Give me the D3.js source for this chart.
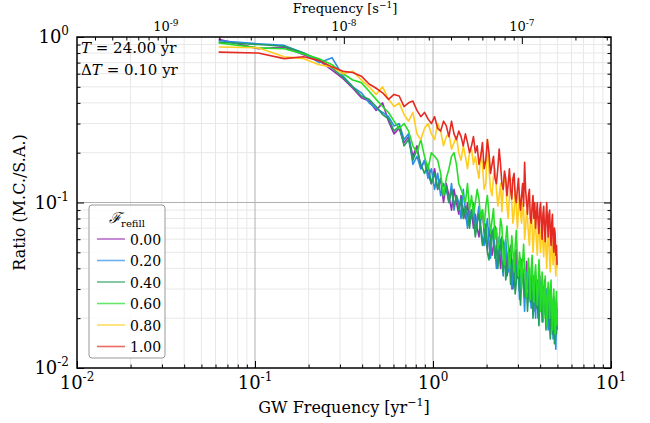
<!DOCTYPE html>
<html>
<head>
<meta charset="utf-8">
<script src="https://cdn.jsdelivr.net/npm/d3@7"></script>
<style>
body { margin: 0; background: #fff; }
text { font-family: "DejaVu Serif", serif; fill: #000; }
</style>
</head>
<body>
<div id="chart"></div>
<script>
// observation span and cadence (yr), shown in the panel
const obsSpan = 24.0;
const cadence = 0.10;
const secPerYear = 3.15576e7;

const refillLevels = ["0.00", "0.20", "0.40", "0.60", "0.80", "1.00"];
const lineColors = ["#9b2fb3", "#2a8ee6", "#1f9e5c", "#27de27", "#ffcc1f", "#e42a22"];

// ratio M.C./S.A. per frequency bin, one list per refill fraction
const ratio000 = [.97,.85,.87,.78,.72,.63,.56,.49,.43,.41,
  .36,.40,.31,.26,.28,.23,.25,.19,.22,.16,
  .18,.15,.13,.16,.12,.14,.10,.13,.11,.09,
  .12,.10,.085,.11,.09,.08,.10,.075,.09,.07,
  .085,.07,.062,.078,.09,.066,.058,.052,.07,.06,
  .048,.055,.072,.066,.045,.05,.04,.062,.058,.047,
  .052,.036,.04,.05,.055,.043,.03,.038,.048,.052,
  .035,.04,.029,.046,.041,.033,.037,.026,.03,.044,
  .04,.032,.036,.025,.028,.038,.034,.022,.03,.036,
  .031,.027,.02,.033,.036,.024,.028,.03,.021,.026,
  .034,.029,.022,.018,.027,.031,.024,.02,.025,.029,
  .022,.016,.024,.027,.019,.014,.021,.025,.017];
const ratio020 = [.95,.91,.89,.80,.70,.75,.58,.50,.46,.40,
  .37,.35,.33,.29,.30,.24,.26,.17,.19,.16,
  .18,.14,.16,.12,.15,.11,.13,.12,.10,.13,
  .09,.11,.10,.08,.12,.09,.07,.09,.08,.10,
  .07,.08,.095,.072,.06,.055,.07,.08,.058,.046,
  .064,.07,.052,.04,.048,.062,.058,.044,.036,.055,
  .06,.047,.038,.05,.042,.03,.036,.05,.046,.034,
  .042,.038,.026,.033,.045,.04,.03,.022,.034,.038,
  .03,.035,.04,.027,.023,.033,.03,.036,.025,.02,
  .029,.034,.03,.022,.026,.033,.024,.019,.027,.031,
  .025,.021,.028,.03,.02,.017,.025,.029,.023,.018,
  .024,.02,.015,.022,.026,.018,.013,.02,.023];
const ratio040 = [.93,.90,.88,.80,.73,.65,.57,.50,.44,.42,
  .38,.34,.32,.27,.29,.22,.24,.18,.21,.17,
  .15,.17,.13,.15,.12,.14,.11,.125,.10,.12,
  .095,.11,.09,.105,.08,.095,.085,.07,.09,.08,
  .062,.075,.085,.068,.055,.062,.074,.05,.045,.06,
  .068,.058,.046,.055,.04,.05,.06,.045,.038,.052,
  .034,.04,.05,.046,.032,.038,.045,.04,.028,.033,
  .042,.037,.03,.024,.035,.04,.032,.027,.036,.03,
  .022,.028,.036,.033,.025,.03,.02,.026,.032,.028,
  .023,.03,.025,.018,.027,.031,.022,.025,.019,.026,
  .029,.022,.017,.024,.027,.02,.023,.018,.015,.022,
  .025,.019,.016,.021,.014,.019,.022,.016,.02];
const ratio060 = [.92,.86,.85,.79,.74,.68,.60,.55,.53,.47,
  .42,.38,.35,.31,.28,.30,.27,.22,.20,.24,
  .19,.16,.20,.19,.18,.15,.11,.14,.16,.19,
  .20,.17,.13,.12,.11,.10,.13,.09,.11,.085,
  .10,.12,.105,.08,.09,.07,.095,.11,.085,.065,
  .078,.092,.06,.07,.052,.058,.08,.072,.048,.042,
  .06,.072,.055,.04,.047,.063,.05,.038,.055,.068,
  .045,.036,.05,.042,.03,.044,.056,.04,.033,.027,
  .038,.046,.035,.026,.04,.048,.03,.025,.036,.042,
  .032,.024,.03,.045,.035,.022,.028,.038,.026,.02,
  .03,.036,.024,.018,.026,.033,.028,.02,.03,.034,
  .022,.017,.025,.03,.02,.016,.024,.029,.018];
const ratio080 = [.87,.86,.76,.74,.68,.66,.60,.62,.55,.50,
  .45,.50,.42,.38,.40,.34,.31,.35,.26,.24,
  .28,.30,.26,.24,.30,.27,.22,.25,.26,.21,
  .23,.25,.20,.18,.22,.19,.16,.20,.21,.17,
  .19,.16,.14,.20,.17,.12,.13,.24,.16,.12,
  .11,.145,.16,.12,.095,.11,.13,.088,.12,.15,
  .13,.095,.08,.11,.14,.10,.075,.085,.12,.095,
  .07,.09,.11,.085,.075,.10,.09,.06,.07,.09,
  .08,.065,.055,.075,.09,.07,.05,.062,.08,.072,
  .058,.048,.065,.08,.06,.05,.07,.075,.055,.047,
  .062,.07,.052,.04,.055,.065,.06,.045,.038,.052,
  .06,.05,.042,.055,.058,.044,.036,.048,.04];
const ratio100 = [.81,.80,.74,.76,.72,.66,.62,.61,.58,.52,
  .49,.46,.42,.45,.44,.38,.40,.41,.36,.33,
  .35,.32,.30,.33,.28,.27,.31,.29,.25,.31,
  .26,.24,.27,.25,.22,.26,.23,.20,.22,.25,
  .20,.22,.17,.19,.23,.16,.18,.24,.20,.15,
  .17,.19,.14,.13,.16,.21,.17,.13,.12,.155,
  .14,.11,.13,.16,.12,.105,.14,.15,.11,.10,
  .12,.14,.105,.09,.11,.13,.095,.175,.12,.10,
  .085,.11,.12,.08,.075,.095,.11,.08,.10,.07,
  .085,.10,.075,.065,.09,.10,.075,.06,.085,.095,
  .07,.058,.08,.10,.075,.062,.085,.09,.065,.055,
  .075,.085,.06,.05,.07,.065,.048,.055,.042];

const allRatios = [ratio000, ratio020, ratio040, ratio060, ratio080, ratio100];

// bottom/left major ticks (exponents), top ticks in Hz
const xMajorExp = [-2, -1, 0, 1];
const yMajorExp = [-2, -1, 0];
const topMajorExp = [-9, -8, -7];

// frequency bin centres (yr^-1) from the observation span
const binFreq = ratio000.map((_, i) => (i + 1.5) / obsSpan);

var margin = {top: 37, right: 39, bottom: 55, left: 77},
  width = 650 - margin.left - margin.right,
  height = 423 - margin.top - margin.bottom;

var svg = d3.select("#chart")
  .append("svg")
  .attr("width", 650)
  .attr("height", 423);

var g = svg.append("g")
  .attr("transform", "translate(" + margin.left + "," + margin.top + ")");

var x = d3.scaleLog().domain([1e-2, 1e1]).range([0, width]);
var y = d3.scaleLog().domain([1e-2, 1]).range([height, 0]);
var xTop = d3.scaleLog().domain([1e-2 / secPerYear, 1e1 / secPerYear]).range([0, width]);

// minor values of a log domain
function minorVals(scale) {
  var d = scale.domain(), out = [];
  var lo = Math.floor(Math.log10(d[0])), hi = Math.ceil(Math.log10(d[1]));
  for (var e = lo; e < hi; e++) {
    for (var m = 2; m <= 9; m++) {
      var v = m * Math.pow(10, e);
      if (v > d[0] * 1.0001 && v < d[1] * 0.9999) out.push(v);
    }
  }
  return out;
}

// grid
var xMinor = minorVals(x), yMinor = minorVals(y);
g.append("g").selectAll("line").data(xMinor).enter().append("line")
  .attr("x1", d => x(d)).attr("x2", d => x(d)).attr("y1", 0).attr("y2", height)
  .attr("stroke", "#e8e8e8").attr("stroke-width", 1);
g.append("g").selectAll("line").data(yMinor).enter().append("line")
  .attr("y1", d => y(d)).attr("y2", d => y(d)).attr("x1", 0).attr("x2", width)
  .attr("stroke", "#e8e8e8").attr("stroke-width", 1);
g.append("g").selectAll("line").data(xMajorExp.slice(1, -1)).enter().append("line")
  .attr("x1", d => x(Math.pow(10, d))).attr("x2", d => x(Math.pow(10, d)))
  .attr("y1", 0).attr("y2", height)
  .attr("stroke", "#b0b0b0").attr("stroke-width", 1);
g.append("g").selectAll("line").data(yMajorExp.slice(1, -1)).enter().append("line")
  .attr("y1", d => y(Math.pow(10, d))).attr("y2", d => y(Math.pow(10, d)))
  .attr("x1", 0).attr("x2", width)
  .attr("stroke", "#b0b0b0").attr("stroke-width", 1);

// the curves
var line = d3.line()
  .x(d => x(d[0]))
  .y(d => y(d[1]));

g.append("g").selectAll("path")
  .data(allRatios)
  .enter().append("path")
  .attr("d", d => line(d.map((r, i) => [binFreq[i], r])))
  .attr("fill", "none")
  .attr("stroke", (d, i) => lineColors[i])
  .attr("stroke-width", 1.6)
  .attr("stroke-linejoin", "round");

// inward ticks
function styleAxis(sel) {
  sel.select(".domain").remove();
  sel.selectAll(".tick line").attr("stroke", "#000").attr("stroke-width", 1);
  sel.selectAll(".tick text").remove();
}
var majX = xMajorExp.map(e => Math.pow(10, e));
var majY = yMajorExp.map(e => Math.pow(10, e));
var majTop = topMajorExp.map(e => Math.pow(10, e));

g.append("g").attr("transform", "translate(0," + height + ")")
  .call(d3.axisBottom(x).tickValues(majX).tickSizeInner(-7).tickSizeOuter(0)).call(styleAxis);
g.append("g").attr("transform", "translate(0," + height + ")")
  .call(d3.axisBottom(x).tickValues(xMinor).tickSizeInner(-3.5).tickSizeOuter(0)).call(styleAxis);
g.append("g")
  .call(d3.axisLeft(y).tickValues(majY).tickSizeInner(-7).tickSizeOuter(0)).call(styleAxis);
g.append("g")
  .call(d3.axisLeft(y).tickValues(yMinor).tickSizeInner(-3.5).tickSizeOuter(0)).call(styleAxis);
g.append("g").attr("transform", "translate(" + width + ",0)")
  .call(d3.axisRight(y).tickValues(majY).tickSizeInner(-7).tickSizeOuter(0)).call(styleAxis);
g.append("g").attr("transform", "translate(" + width + ",0)")
  .call(d3.axisRight(y).tickValues(yMinor).tickSizeInner(-3.5).tickSizeOuter(0)).call(styleAxis);
g.append("g")
  .call(d3.axisTop(xTop).tickValues(majTop).tickSizeInner(-7).tickSizeOuter(0)).call(styleAxis);
g.append("g")
  .call(d3.axisTop(xTop).tickValues(minorVals(xTop)).tickSizeInner(-3.5).tickSizeOuter(0)).call(styleAxis);

// frame
g.append("rect")
  .attr("width", width).attr("height", height)
  .attr("fill", "none").attr("stroke", "#000").attr("stroke-width", 1.5);

// power-of-ten labels
function powLabel(sel, exp, size) {
  sel.append("tspan").text("10").attr("font-size", size + "px");
  sel.append("tspan").text(exp < 0 ? "-" + (-exp) : String(exp))
    .attr("font-size", Math.round(size * 0.66) + "px")
    .attr("dy", -Math.round(size * 0.42));
}

xMajorExp.forEach(function(e) {
  var t = g.append("text")
    .attr("x", x(Math.pow(10, e)))
    .attr("y", height + 21)
    .attr("text-anchor", "middle");
  powLabel(t, e, 18);
});
yMajorExp.forEach(function(e) {
  var t = g.append("text")
    .attr("x", -8)
    .attr("y", y(Math.pow(10, e)) + 6)
    .attr("text-anchor", "end");
  powLabel(t, e, 18);
});
topMajorExp.forEach(function(e) {
  var t = g.append("text")
    .attr("x", xTop(Math.pow(10, e)))
    .attr("y", -6)
    .attr("text-anchor", "middle");
  powLabel(t, e, 13);
});

// axis titles
var xt = svg.append("text")
  .attr("x", margin.left + width / 2)
  .attr("y", 413)
  .attr("text-anchor", "middle")
  .attr("font-size", "16px");
xt.append("tspan").text("GW Frequency [yr");
xt.append("tspan").text("\u22121").attr("font-size", "11px").attr("dy", -7);
xt.append("tspan").text("]").attr("dy", 7);

svg.append("text")
  .attr("transform", "translate(25," + (margin.top + height / 2) + ") rotate(-90)")
  .attr("text-anchor", "middle")
  .attr("font-size", "16px")
  .text("Ratio (M.C./S.A.)");

var tt = svg.append("text")
  .attr("x", margin.left + width / 2 + 1)
  .attr("y", 13)
  .attr("text-anchor", "middle")
  .attr("font-size", "13px");
tt.append("tspan").text("Frequency [s");
tt.append("tspan").text("\u22121").attr("font-size", "9px").attr("dy", -5);
tt.append("tspan").text("]").attr("dy", 5);

// panel annotation
var a1 = g.append("text").attr("x", 4).attr("y", 16).attr("font-size", "15px");
a1.append("tspan").text("T").attr("font-style", "italic");
a1.append("tspan").text(" = " + obsSpan.toFixed(2) + " yr");
var a2 = g.append("text").attr("x", 4).attr("y", 38).attr("font-size", "15px");
a2.append("tspan").text("\u0394");
a2.append("tspan").text("T").attr("font-style", "italic");
a2.append("tspan").text(" = " + cadence.toFixed(2) + " yr");

// legend
var leg = svg.append("g").attr("transform", "translate(89,205)");
leg.append("rect")
  .attr("width", 76).attr("height", 153).attr("rx", 3)
  .attr("fill", "#fff").attr("fill-opacity", 0.85)
  .attr("stroke", "#999").attr("stroke-width", 1);
var lt = leg.append("text").attr("x", 38).attr("y", 18).attr("text-anchor", "middle").attr("font-size", "15px");
lt.append("tspan").text("\u2131").attr("font-style", "italic");
lt.append("tspan").text("refill").attr("font-size", "10px").attr("dy", 4);

var items = leg.selectAll(".item").data(refillLevels).enter().append("g")
  .attr("transform", (d, i) => "translate(0," + (34 + i * 21.5) + ")");
items.append("line")
  .attr("x1", 8).attr("x2", 36).attr("y1", 0).attr("y2", 0)
  .attr("stroke", (d, i) => lineColors[i]).attr("stroke-width", 1.6)
  .attr("stroke-opacity", 0.7);
items.append("text")
  .attr("x", 41).attr("y", 5.5)
  .attr("font-size", "14px")
  .text(d => d);
</script>
</body>
</html>
